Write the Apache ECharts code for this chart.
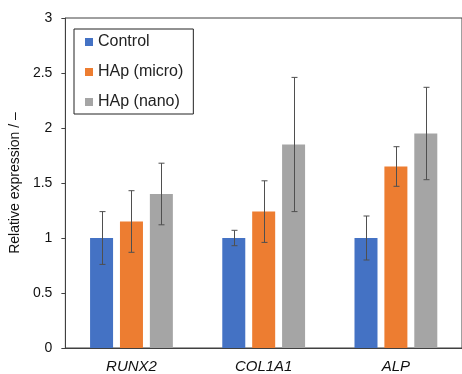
<!DOCTYPE html>
<html>
<head>
<meta charset="utf-8">
<script src="https://cdn.jsdelivr.net/npm/echarts@6/dist/echarts.min.js"></script>
<style>
html,body{margin:0;padding:0;background:#fff;}
#chart{width:462px;height:374px;}
</style>
</head>
<body>
<div id="chart"></div>
<script>
const categories = ['RUNX2', 'COL1A1', 'ALP'];
const seriesNames = ['Control', 'HAp (micro)', 'HAp (nano)'];
const controlValues = [1.00, 1.00, 1.00];
const controlErrors = [0.24, 0.07, 0.20];
const microValues = [1.15, 1.24, 1.65];
const microErrors = [0.28, 0.28, 0.18];
const nanoValues = [1.40, 1.85, 1.95];
const nanoErrors = [0.28, 0.61, 0.42];
const yTicks = [0, 0.5, 1, 1.5, 2, 2.5, 3];
const colors = ['#4472C4', '#ED7D31', '#A5A5A5'];

const BAR_W = 23;
const BAR_GAP = 0.3;
const step = BAR_W * (1 + BAR_GAP);

const values = [controlValues, microValues, nanoValues];
const errors = [controlErrors, microErrors, nanoErrors];

const chart = echarts.init(document.getElementById('chart'), null, {renderer: 'canvas'});

const barSeries = seriesNames.map((name, i) => ({
  name: name,
  type: 'bar',
  data: values[i],
  barWidth: BAR_W,
  barGap: (BAR_GAP * 100) + '%',
  itemStyle: {color: colors[i]},
  emphasis: {disabled: true},
  z: 2
}));

const errSeries = seriesNames.map((name, i) => ({
  type: 'custom',
  name: name + ' err',
  data: values[i].map((v, k) => [k, v, errors[i][k]]),
  encode: {x: 0, y: 1},
  z: 5,
  silent: true,
  renderItem: function (params, api) {
    const k = api.value(0);
    const v = api.value(1);
    const e = api.value(2);
    const off = (i - 1) * step;
    const top = api.coord([k, v + e]);
    const bot = api.coord([k, v - e]);
    const x = Math.round(top[0] + off) + 0.5;
    const style = {stroke: '#4f4f4f', lineWidth: 1};
    return {
      type: 'group',
      children: [
        {type: 'line', shape: {x1: x, y1: top[1], x2: x, y2: bot[1]}, style: style},
        {type: 'line', shape: {x1: x - 3, y1: top[1], x2: x + 3, y2: top[1]}, style: style},
        {type: 'line', shape: {x1: x - 3, y1: bot[1], x2: x + 3, y2: bot[1]}, style: style}
      ]
    };
  }
}));

chart.setOption({
  animation: false,
  backgroundColor: '#fff',
  textStyle: {fontFamily: 'Liberation Sans, Arial, sans-serif'},
  grid: {left: 63, top: 18, width: 405, height: 331, show: true, borderColor: '#404040', borderWidth: 1, backgroundColor: 'transparent'},
  legend: {
    data: seriesNames,
    orient: 'vertical',
    left: 74,
    top: 29,
    icon: 'rect',
    itemWidth: 8,
    itemHeight: 8,
    itemGap: 14,
    padding: [5, 10, 4, 11],
    borderColor: '#222',
    borderWidth: 1,
    selectedMode: false,
    textStyle: {fontSize: 16, color: '#222', fontFamily: 'Liberation Sans, Arial, sans-serif'}
  },
  xAxis: {
    type: 'category',
    data: categories,
    axisLine: {show: true, lineStyle: {color: '#404040', width: 1}},
    axisTick: {show: false},
    axisLabel: {fontSize: 15, fontStyle: 'italic', color: '#111', margin: 11, fontFamily: 'Liberation Sans, Arial, sans-serif'},
    splitLine: {show: false}
  },
  yAxis: {
    type: 'value',
    min: yTicks[0],
    max: yTicks[yTicks.length - 1],
    interval: yTicks[1] - yTicks[0],
    name: 'Relative expression / –',
    nameLocation: 'middle',
    nameGap: 37,
    nameTextStyle: {fontSize: 14, color: '#111', fontFamily: 'Liberation Sans, Arial, sans-serif'},
    axisLine: {show: true, lineStyle: {color: '#404040', width: 1}},
    axisTick: {show: true, inside: false, length: 4, lineStyle: {color: '#404040'}},
    axisLabel: {fontSize: 14, color: '#111', margin: 13, fontFamily: 'Liberation Sans, Arial, sans-serif'},
    splitLine: {show: false}
  },
  series: barSeries.concat(errSeries)
});
</script>
</body>
</html>
